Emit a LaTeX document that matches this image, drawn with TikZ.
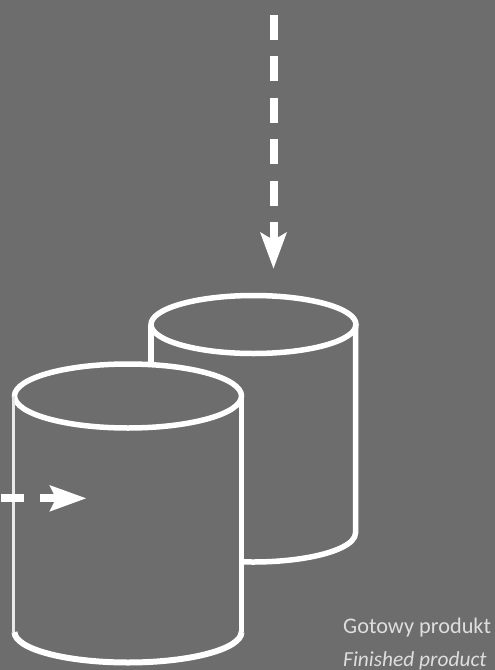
\documentclass[tikz,border=0pt]{standalone}
\usepackage{fontspec}
\setmainfont{Carlito}
\definecolor{bgc}{HTML}{6D6D6D}
\definecolor{txtc}{HTML}{DEDEDE}
\tikzset{
  tank/.style={draw=white,line width=5.5pt,line cap=butt},
  thinside/.style={draw=white!85!bgc,line width=3pt},
  flow/.style={draw=white,line width=8pt},
  head/.style={fill=white,draw=none},
  caption/.style={text=txtc,inner sep=0pt,anchor=base west}
}
\begin{document}
\begin{tikzpicture}[x=1pt,y=-1pt]
\useasboundingbox (0,0) rectangle (495,670);
\clip (0,0) rectangle (495,670);
\fill[bgc] (0,0) rectangle (495,670);
% back tank
\draw[tank] (253.5,324.5) ellipse [x radius=102.5pt,y radius=29pt];
\draw[tank,line width=6pt] (151.3,325) -- (151.3,363);
\draw[tank] (355.5,325) -- (355.5,533) arc[start angle=0,end angle=-96,x radius=102.5pt,y radius=29pt];
% front tank
\draw[tank] (128,396) ellipse [x radius=113.5pt,y radius=32pt];
\draw[thinside] (13.8,396) -- (13.8,632);
\draw[tank] (241.3,396) -- (241.3,632);
\draw[tank,line width=6pt] (14.5,632) arc[start angle=180,end angle=360,x radius=113.5pt,y radius=30.5pt];
% vertical flow arrow
\coordinate (vs) at (273.5,15);
\coordinate (ve) at (273.5,240);
\draw[flow,dash pattern=on 25pt off 16.4pt] (vs) -- (ve);
\fill[head] (273.5,268.5) -- (260,232) -- (273.5,240) -- (287,232) -- cycle;
% horizontal flow arrow
\coordinate (hs) at (0.7,498.3);
\coordinate (hm) at (24,498.3);
\coordinate (hn) at (40,498.3);
\coordinate (he) at (58,498.3);
\draw[flow] (hs) -- (hm);
\draw[flow] (hn) -- (he);
\fill[head] (86,498.3) -- (49.3,485) -- (56,498.3) -- (49.3,511.7) -- cycle;
% caption
\node[caption] (cap1) at (343,633) {\fontsize{22.3}{22.3}\selectfont Gotowy produkt};
\node[caption] (cap2) at (343,666.7) {\fontsize{21.4}{21.4}\selectfont\itshape Finished product};
\end{tikzpicture}
\end{document}
